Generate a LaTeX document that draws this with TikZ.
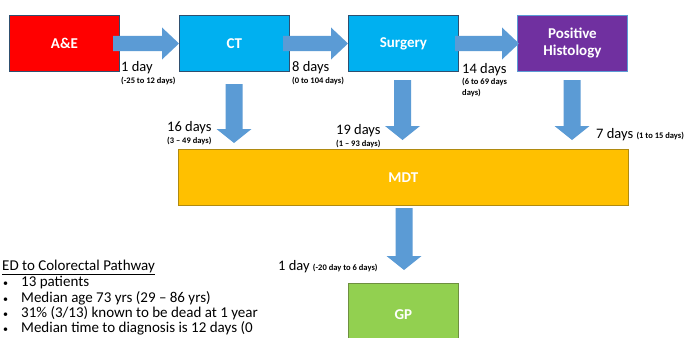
\documentclass[tikz,border=0pt]{standalone}
\usepackage{fontspec}
\setmainfont{Carlito}
\definecolor{aered}{HTML}{FF0000}
\definecolor{ctblue}{HTML}{00B0F0}
\definecolor{histpurple}{HTML}{7030A0}
\definecolor{mdtgold}{HTML}{FFC000}
\definecolor{mdtedge}{HTML}{B08A10}
\definecolor{gpgreen}{HTML}{92D050}
\definecolor{gpedge}{HTML}{6E8F40}
\definecolor{arrblue}{HTML}{5B9BD5}
\definecolor{edgedark}{HTML}{2F4F6F}
\tikzset{
  x=1pt,y=-1pt,
  stagebox/.style={draw=edgedark, line width=0.8pt, minimum width=110pt, minimum height=56pt, inner sep=0pt, text=white, font=\fontsize{15}{17}\selectfont\bfseries, align=center, anchor=north west},
  blockarrow/.style={fill=arrblue, draw=none},
  bigtxt/.style={font=\fontsize{14.5}{16}\selectfont, anchor=base west, inner sep=0pt},
  smalltxt/.style={font=\fontsize{8.5}{10}\selectfont\bfseries, anchor=base west, inner sep=0pt},
  listtxt/.style={font=\fontsize{15}{17}\selectfont, anchor=base west, inner sep=0pt}
}
\newcommand\smallfnt{\fontsize{8.5}{10}\selectfont\bfseries}
\newcommand\rblockarrow[3]{% x1 x2 yc
  \fill[blockarrow] (#1,#3-7.5) -- (#2-17,#3-7.5) -- (#2-17,#3-16) -- (#2,#3) -- (#2-17,#3+16) -- (#2-17,#3+7.5) -- (#1,#3+7.5) -- cycle;}
\newcommand\dblockarrow[3]{% cx y1 y2
  \fill[blockarrow] (#1-8.5,#2) -- (#1+8.5,#2) -- (#1+8.5,#3-14) -- (#1+17.5,#3-14) -- (#1,#3) -- (#1-17.5,#3-14) -- (#1-8.5,#3-14) -- cycle;}
\begin{document}
\begin{tikzpicture}
\useasboundingbox (0,0) rectangle (692,337);
\fill[white] (0,0) rectangle (692,337);
% boxes
\node[stagebox, fill=aered] (ae) at (9,15) {A\&E};
\node[stagebox, fill=ctblue] (ct) at (179,15) {CT};
\node[stagebox, fill=ctblue] (surg) at (348,15) {Surgery};
\node[stagebox, fill=histpurple, draw=arrblue] (hist) at (517,15) {Positive\\Histology};
\node[stagebox, fill=mdtgold, draw=mdtedge, line width=0.7pt, minimum width=450pt, minimum height=56pt] (mdt) at (178,149) {MDT};
\node[stagebox, fill=gpgreen, draw=gpedge, line width=0.6pt, minimum height=62pt] (gp) at (348,283) {GP};
% arrows
\rblockarrow{113}{179}{43.5}
\rblockarrow{283}{348}{43.5}
\rblockarrow{455}{519}{43.5}
\dblockarrow{234}{84}{143}
\dblockarrow{402.5}{80}{140}
\dblockarrow{572}{80}{140}
\dblockarrow{404}{208}{270}
% labels
\node[bigtxt] (l1) at (121,71) {1 day};
\node[smalltxt] (s1) at (121,83) {(-25 to 12 days)};
\node[bigtxt] (l2) at (292,71) {8 days};
\node[smalltxt] (s2) at (292,83) {(0 to 104 days)};
\node[bigtxt] (l3) at (462,73) {14 days};
\node[smalltxt] (s3) at (462,84.5) {(6 to 69 days};
\node[smalltxt] (s3b) at (462,95.5) {days)};
\node[bigtxt] (l4) at (167,131) {16 days};
\node[smalltxt] (s4) at (167,143) {(3 -- 49 days)};
\node[bigtxt] (l5) at (336,134) {19 days};
\node[smalltxt] (s5) at (336,146) {(1 -- 93 days)};
\node[bigtxt] (l6) at (596,138) {7 days \smallfnt(1 to 15 days)};
\node[bigtxt] (l7) at (278,270) {1 day \smallfnt(-20 day to 6 days)};
% left list
\node[listtxt] (h) at (2,270) {\underline{ED to Colorectal Pathway}};
\node[listtxt] (b1) at (3,286.5) {\fontsize{10}{12}\selectfont\textbullet};
\node[listtxt] (t1) at (21,286.5) {13 patients};
\node[listtxt] (b2) at (3,302) {\fontsize{10}{12}\selectfont\textbullet};
\node[listtxt] (t2) at (21,302) {Median age 73 yrs (29 -- 86 yrs)};
\node[listtxt] (b3) at (3,317) {\fontsize{10}{12}\selectfont\textbullet};
\node[listtxt] (t3) at (21,317) {31\% (3/13) known to be dead at 1 year};
\node[listtxt] (b4) at (3,332) {\fontsize{10}{12}\selectfont\textbullet};
\node[listtxt] (t4) at (21,332) {Median time to diagnosis is 12 days (0};
\end{tikzpicture}
\end{document}
